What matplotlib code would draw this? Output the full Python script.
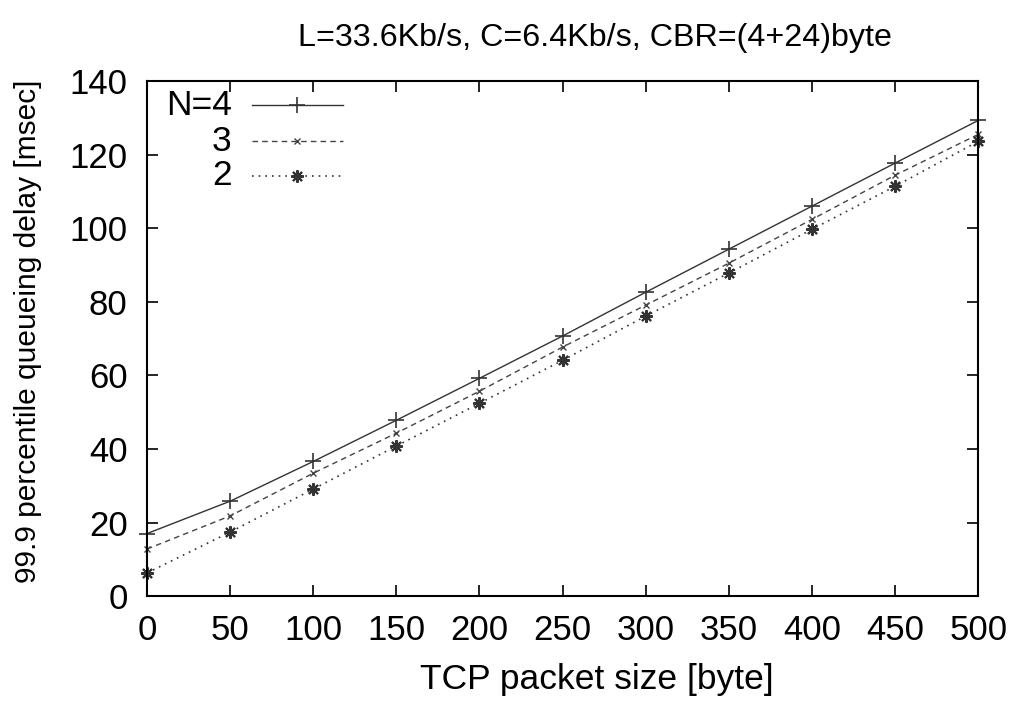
import matplotlib
matplotlib.use('Agg')
import matplotlib.pyplot as plt
from matplotlib.lines import Line2D

plt.rcParams['font.family'] = ['Liberation Sans', 'DejaVu Sans']

# TCP packet size [byte]
sizes = [0, 50, 100, 150, 200, 250, 300, 350, 400, 450, 500]
# 99.9 percentile queueing delay [msec]
delay_n4 = [17.0, 25.8, 36.6, 47.8, 59.2, 70.7, 82.6, 94.3, 106.0, 117.7, 129.3]
delay_n3 = [12.8, 21.8, 33.4, 44.3, 55.7, 67.7, 79.1, 90.5, 102.4, 114.4, 125.5]
delay_n2 = [6.3, 17.4, 29.1, 40.8, 52.4, 64.1, 76.1, 87.8, 99.7, 111.4, 123.6]
labels = ['N=4', '3', '2']

xticks = list(range(0, 501, 50))
yticks = list(range(0, 141, 20))


def main():
    fig = plt.figure(figsize=(10.1, 7.08), dpi=100)
    ax = fig.add_axes([0.1455, 0.158, 0.823, 0.7275])

    styles = [
        dict(ls='-', marker='+', ms=11, mew=1.2, color='#333333', lw=1.0),
        dict(ls=(0, (4, 3)), marker='x', ms=5, mew=1.0, color='#444444', lw=1.0),
        dict(ls=(0, (1, 3)), marker=(8, 2, 0), ms=9, mew=1.5, color='#333333', lw=1.2),
    ]
    series = [delay_n4, delay_n3, delay_n2]
    for vals, st in zip(series, styles):
        ax.plot(sizes, vals, clip_on=False, **st)

    ax.set_xlim(0, 500)
    ax.set_ylim(0, 140)
    ax.set_xticks(xticks)
    ax.set_yticks(yticks)
    ax.tick_params(direction='in', length=8, width=1.2, top=True, right=True,
                   labelsize=25)
    ax.tick_params(axis='x', pad=13)
    ax.tick_params(axis='y', pad=14)
    for s in ax.spines.values():
        s.set_linewidth(1.5)

    fig.text(0.591, 0.040, 'TCP packet size [byte]', fontsize=25.5,
             ha='center', va='center')
    fig.text(0.028, 0.532, '99.9 percentile queueing delay [msec]',
             fontsize=21.5, rotation=90, ha='center', va='center')
    fig.text(0.589, 0.946, 'L=33.6Kb/s, C=6.4Kb/s, CBR=(4+24)byte',
             fontsize=23.2, ha='center', va='center')

    # gnuplot style key in the upper left
    key_y = [0.953, 0.883, 0.816]
    for lab, st, yk in zip(labels, styles, key_y):
        ax.text(0.102, yk, lab, transform=ax.transAxes, ha='right',
                va='center', fontsize=25.5)
        line_st = {k: v for k, v in st.items() if k not in ('marker', 'ms', 'mew')}
        ax.add_line(Line2D([0.126, 0.236], [yk, yk], transform=ax.transAxes,
                           **line_st))
        ax.add_line(Line2D([0.181], [yk], transform=ax.transAxes, ls='none',
                           marker=st['marker'], ms=st['ms'], mew=st['mew'],
                           color=st['color']))

    fig.savefig('out.png', dpi=100)


if __name__ == '__main__':
    main()
